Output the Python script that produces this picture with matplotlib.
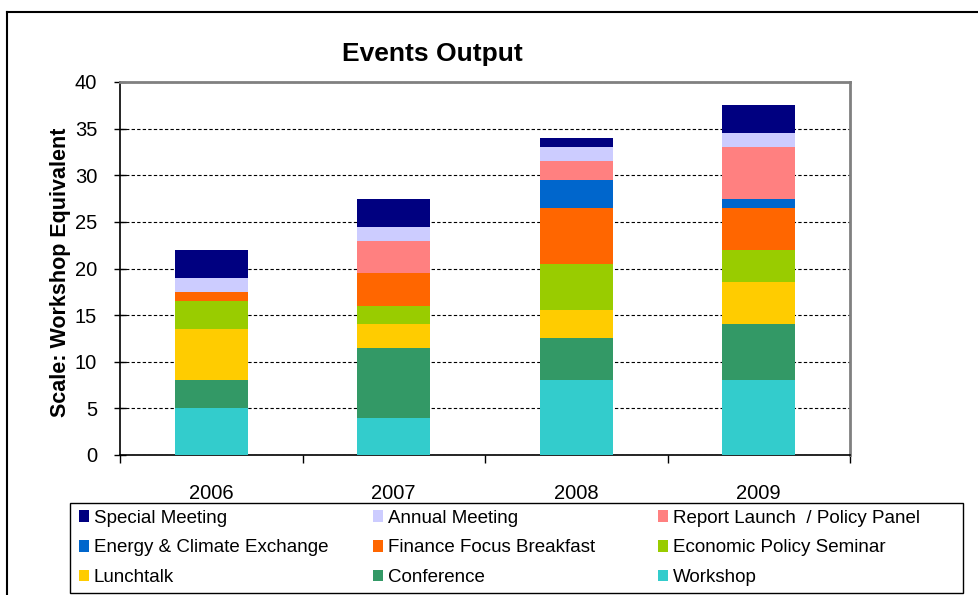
import matplotlib

matplotlib.use("Agg")
import matplotlib.pyplot as plt
from matplotlib.lines import Line2D
from matplotlib.patches import Patch, Rectangle

plt.rcParams["font.family"] = ["Liberation Sans", "DejaVu Sans"]

years = ["2006", "2007", "2008", "2009"]

# серии снизу вверх (порядок наложения)
workshop = [5, 4, 8, 8]
conference = [3, 7.5, 4.5, 6]
lunchtalk = [5.5, 2.5, 3, 4.5]
econ_seminar = [3, 2, 5, 3.5]
finance_breakfast = [1, 3.5, 6, 4.5]
energy_exchange = [0, 0, 3, 1]
report_launch = [0, 3.5, 2, 5.5]
annual_meeting = [1.5, 1.5, 1.5, 1.5]
special_meeting = [3, 3, 1, 3]

series = [
    ("Workshop", workshop, "#33CCCC"),
    ("Conference", conference, "#339966"),
    ("Lunchtalk", lunchtalk, "#FFCC00"),
    ("Economic Policy Seminar", econ_seminar, "#99CC00"),
    ("Finance Focus Breakfast", finance_breakfast, "#FF6600"),
    ("Energy & Climate Exchange", energy_exchange, "#0066CC"),
    ("Report Launch  / Policy Panel", report_launch, "#FF8080"),
    ("Annual Meeting", annual_meeting, "#CCCCFF"),
    ("Special Meeting", special_meeting, "#000080"),
]

# столбцы легенды (сверху вниз), как в оригинале
legend_columns = [
    ["Special Meeting", "Energy & Climate Exchange", "Lunchtalk"],
    ["Annual Meeting", "Finance Focus Breakfast", "Conference"],
    ["Report Launch  / Policy Panel", "Economic Policy Seminar", "Workshop"],
]

W, H = 979, 595
fig = plt.figure(figsize=(W / 100, H / 100), dpi=100)
ax = fig.add_axes([120 / W, 1 - 455 / H, 730 / W, 373 / H])

x = list(range(len(years)))
bottom = [0.0] * len(years)
for name, vals, color in series:
    ax.bar(x, vals, width=0.4, bottom=bottom, color=color, linewidth=0, zorder=3)
    bottom = [b + v for b, v in zip(bottom, vals)]

ax.set_xlim(-0.5, 3.5)
ax.set_ylim(0, 40)
ax.set_yticks(range(0, 41, 5))
ax.yaxis.grid(True, color="black", linestyle=(0, (3, 2)), linewidth=0.8, zorder=1)
ax.set_axisbelow(True)

# основные тики — границы категорий, подписи — на минорных
ax.set_xticks([-0.5, 0.5, 1.5, 2.5, 3.5])
ax.set_xticklabels([])
ax.set_xticks(x, minor=True)
ax.set_xticklabels(years, minor=True)
ax.tick_params(axis="x", which="major", direction="out", length=6, width=1)
ax.tick_params(axis="x", which="minor", length=0, pad=21, labelsize=14.5)
ax.tick_params(axis="y", direction="inout", length=9, width=1, labelsize=14.5, pad=12)

for side in ("top", "right"):
    ax.spines[side].set_color("#808080")
    ax.spines[side].set_linewidth(2)
for side in ("left", "bottom"):
    ax.spines[side].set_color("black")
    ax.spines[side].set_linewidth(1.2)

ax.set_ylabel("Scale: Workshop Equivalent", fontsize=15.5, fontweight="bold")
ax.yaxis.set_label_coords((71 - 120) / 730, 0.49)
fig.text(432 / W, 1 - 54 / H, "Events Output", ha="center", va="center",
         fontsize=19, fontweight="bold")

# легенда: рамка + три колонки, у каждой своя позиция по x
fig.add_artist(Rectangle((70 / W, 1 - 593 / H), 893 / W, 90 / H, transform=fig.transFigure,
                         facecolor="white", edgecolor="black", linewidth=1, zorder=5))
by_name = {name: color for name, _, color in series}
col_x = [75, 369, 654]
for cx, names in zip(col_x, legend_columns):
    handles = [Patch(facecolor=by_name[n], edgecolor="none") for n in names]
    fig.legend(
        handles, names, loc="upper left", bbox_to_anchor=(cx / W, 1 - 506 / H),
        fontsize=13.5, frameon=False, handlelength=0.55, handleheight=0.55,
        handletextpad=0.25, borderaxespad=0, borderpad=0.2, labelspacing=0.68,
    ).set_zorder(6)

# внешняя рамка диаграммы
fig.add_artist(Line2D([7 / W, 1.0], [1 - 12 / H] * 2, color="black", linewidth=1.5))
fig.add_artist(Line2D([7 / W] * 2, [0, 1 - 12 / H], color="black", linewidth=1.5))

fig.savefig("out.png", dpi=100)
